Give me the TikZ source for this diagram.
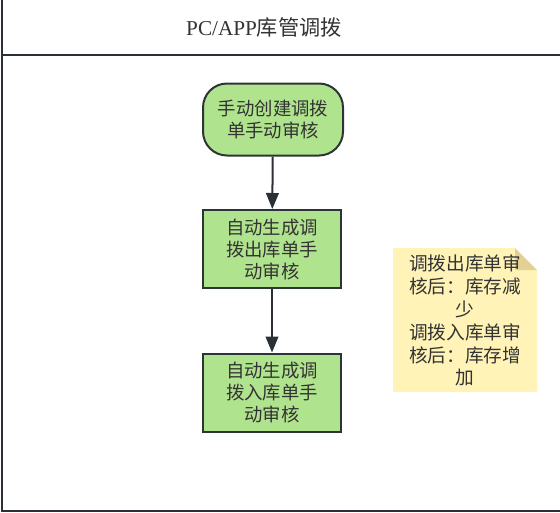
\documentclass[tikz,border=0pt]{standalone}
\usepackage{fontspec}
\setmainfont{Liberation Serif}
\newfontfamily\cjk{Noto Sans CJK SC}
\usetikzlibrary{arrows.meta}
\definecolor{lineclr}{HTML}{2B3036}
\definecolor{boxfill}{HTML}{B0E38E}
\definecolor{boxline}{HTML}{2D3436}
\definecolor{txtclr}{HTML}{333333}
\definecolor{notefill}{HTML}{FFF3B8}
\definecolor{notefold}{HTML}{E3D193}
\tikzset{
  flowbox/.style={draw=boxline, line width=1.5pt, fill=boxfill, text=txtclr,
    align=center, inner sep=0pt, font=\cjk\fontsize{13.8}{16.5}\selectfont},
  stadium/.style={flowbox, rounded corners=18pt, minimum width=105pt, minimum height=54pt},
  rectbox/.style={flowbox, minimum width=103.5pt, minimum height=58.5pt},
  flowarrow/.style={draw=lineclr, line width=1.5pt, -{Triangle[length=12pt,width=9.5pt]}},
  notetext/.style={text=txtclr, align=center, inner sep=0pt, font=\cjk\fontsize{14}{17.2}\selectfont},
  poolline/.style={draw=lineclr, line width=2pt}
}
\begin{document}
\begin{tikzpicture}[x=0.75pt,y=-0.75pt]
\useasboundingbox (0,0) rectangle (560,512);
% pool frame
\coordinate (tl) at (2,0);
\coordinate (bl) at (2,511);
\coordinate (br) at (560,511);
\coordinate (hl) at (2,55);
\coordinate (hr) at (560,55);
\draw[poolline] (tl) -- (bl) -- (br);
\draw[poolline] (hl) -- (hr);
\node[text=txtclr, inner sep=0pt, font=\fontsize{15.9}{18}\selectfont] (title) at (264,27) {PC/APP{\cjk 库管调拨}};
% nodes
\node[stadium] (n1) at (273,119.5) {手动创建调拨\\单手动审核};
\node[rectbox] (n2) at (272,249) {自动生成调\\拨出库单手\\动审核};
\node[rectbox] (n3) at (272,392.5) {自动生成调\\拨入库单手\\动审核};
\draw[flowarrow] (n1) -- (n2);
\draw[flowarrow] (n2) -- (n3);
% note
\coordinate (na) at (393,248);
\coordinate (nb) at (515,248);
\coordinate (nc) at (537,270);
\coordinate (nd) at (537,392);
\coordinate (ne) at (393,392);
\fill[notefill] (na) -- (nb) -- (nc) -- (nd) -- (ne) -- cycle;
\fill[notefold] (nb) -- (nc) -- (515,270) -- cycle;
\node[notetext] (note) at (465,320.5) {调拨出库单审\\核后：库存减\\少\\调拨入库单审\\核后：库存增\\加};
\end{tikzpicture}
\end{document}
